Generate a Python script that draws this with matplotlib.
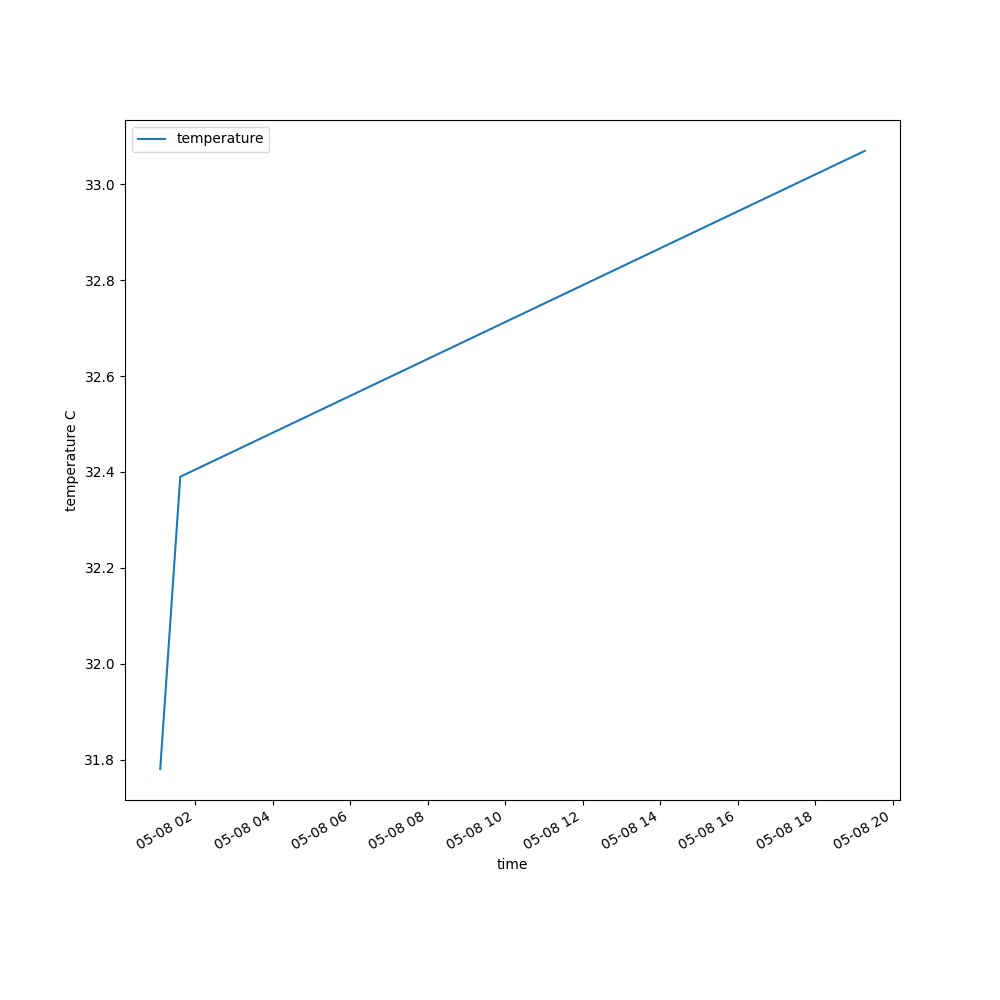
import datetime as dt

import matplotlib
matplotlib.use("Agg")
import matplotlib.pyplot as plt

# readings taken from the chart
times = [
    dt.datetime(2023, 5, 8, 1, 6),
    dt.datetime(2023, 5, 8, 1, 37),
    dt.datetime(2023, 5, 8, 19, 17),
]
temperature = [31.78, 32.39, 33.07]

fig, ax = plt.subplots(figsize=(10, 10), dpi=100)
ax.plot(times, temperature, label="temperature")
ax.set_xlabel("time")
ax.set_ylabel("temperature C")
ax.legend(loc="upper left")
fig.autofmt_xdate()
fig.savefig("out.png")
